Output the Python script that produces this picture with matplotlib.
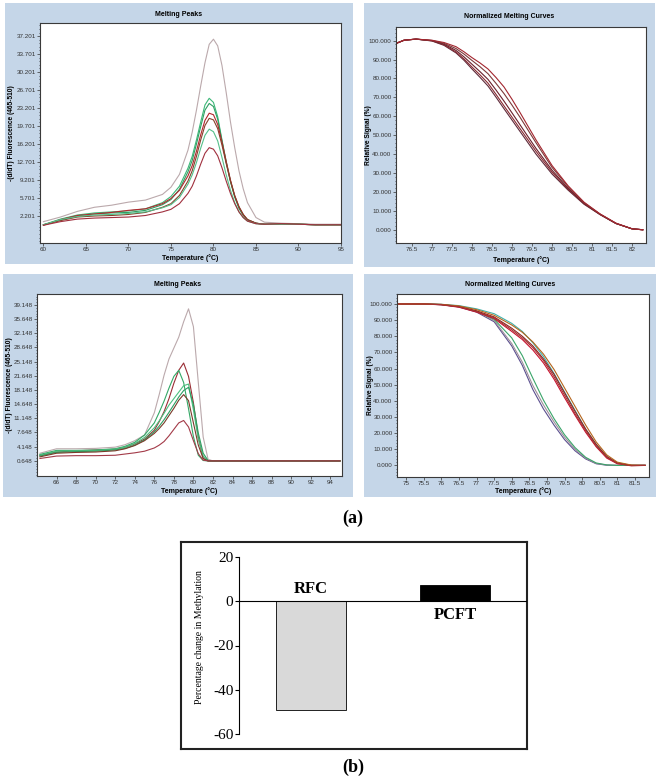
import matplotlib
matplotlib.use('Agg')
import matplotlib.pyplot as plt
from matplotlib.patches import Rectangle
from matplotlib.ticker import AutoMinorLocator

SANS = ['Liberation Sans', 'DejaVu Sans']
SERIF = ['Liberation Serif', 'DejaVu Serif']
plt.rcParams['font.family'] = SANS
plt.rcParams['axes.unicode_minus'] = False
plt.rcParams['lines.solid_joinstyle'] = 'round'

# ---- data: top-left melting peaks ----
tl_x = [60, 62, 64, 66, 68, 70, 72, 74, 75, 76, 77, 77.5, 78, 78.5, 79, 79.5, 80,
        80.5, 81, 81.5, 82, 82.5, 83, 83.5, 84, 85, 86, 88, 90, 92, 95]
tl_grey = [1.1, 2.0, 3.1, 3.9, 4.3, 4.9, 5.3, 6.4, 7.8, 10.3, 15.0, 18.5, 22.8, 27.5, 32.0, 35.6, 36.6,
           35.3, 31.5, 26.2, 20.5, 15.5, 11.0, 7.5, 4.8, 1.9, 1.0, 0.8, 0.7, 0.6, 0.6]
tl_green1 = [0.5, 1.6, 2.4, 2.8, 3.0, 3.2, 3.6, 4.8, 6.0, 8.0, 11.5, 13.8, 17.0, 20.5, 23.8, 25.1, 24.3,
             21.5, 17.0, 12.8, 9.0, 6.0, 3.8, 2.4, 1.5, 0.8, 0.6, 0.6, 0.6, 0.5, 0.5]
tl_green2 = [0.5, 1.4, 2.2, 2.6, 2.8, 2.9, 3.3, 4.4, 5.4, 7.4, 10.8, 13.0, 16.2, 19.6, 22.8, 24.1, 23.5,
             21.0, 16.8, 12.6, 8.9, 5.9, 3.7, 2.3, 1.4, 0.8, 0.6, 0.6, 0.6, 0.5, 0.5]
tl_red1 = [0.4, 1.5, 2.3, 2.6, 2.9, 3.3, 3.6, 4.6, 5.6, 7.2, 10.0, 12.0, 14.8, 18.0, 20.8, 22.2, 21.9,
           20.0, 16.6, 12.8, 9.2, 6.2, 4.0, 2.5, 1.5, 0.8, 0.6, 0.7, 0.6, 0.5, 0.5]
tl_brown = [0.5, 1.3, 2.0, 2.2, 2.3, 2.5, 2.9, 3.9, 4.6, 6.2, 9.0, 11.0, 13.8, 17.0, 19.8, 21.2, 20.9,
            19.2, 16.0, 12.4, 9.0, 6.1, 4.0, 2.5, 1.5, 0.8, 0.6, 0.6, 0.6, 0.5, 0.5]
tl_green3 = [0.5, 1.5, 2.1, 2.4, 2.5, 2.7, 3.0, 3.8, 4.4, 5.8, 8.4, 10.2, 12.6, 15.4, 17.9, 19.1, 18.6,
             16.8, 13.6, 10.2, 7.2, 4.8, 3.0, 1.9, 1.2, 0.7, 0.6, 0.6, 0.6, 0.5, 0.5]
tl_red2 = [0.4, 1.1, 1.6, 1.8, 1.9, 2.0, 2.3, 3.0, 3.5, 4.6, 6.6, 8.0, 10.0, 12.3, 14.4, 15.5, 15.2,
           13.9, 11.6, 9.0, 6.6, 4.6, 3.0, 1.9, 1.2, 0.7, 0.6, 0.7, 0.6, 0.5, 0.5]
tl_xticks = [60, 65, 70, 75, 80, 85, 90, 95]
tl_yticks = [2.201, 5.701, 9.201, 12.701, 16.201, 19.701, 23.201, 26.701, 30.201, 33.701, 37.201]

# ---- data: top-right normalized melting curves ----
tr_x = [76.1, 76.3, 76.6, 77.0, 77.3, 77.6, 77.8, 78.0, 78.2, 78.4, 78.6, 78.8, 79.0, 79.2, 79.6, 80.0,
        80.4, 80.8, 81.2, 81.6, 82.0, 82.27]
tr_a = [98.5, 100.2, 100.8, 99.8, 97.5, 93.5, 89.6, 85.0, 80.6, 76.0, 70.1, 64.0, 58.0, 52.0, 40.0, 29.5,
        21.0, 13.5, 8.0, 3.3, 0.5, 0.0]
tr_b = [98.5, 100.2, 100.8, 99.9, 97.8, 94.0, 90.3, 86.0, 81.9, 77.5, 71.6, 65.5, 59.5, 53.5, 41.5, 30.5,
        21.5, 13.8, 8.1, 3.3, 0.5, 0.0]
tr_c = [98.5, 100.2, 100.8, 100.0, 98.2, 94.8, 91.4, 87.5, 83.6, 79.5, 73.9, 68.0, 61.8, 55.5, 43.0, 31.5,
        22.0, 14.0, 8.2, 3.3, 0.5, 0.0]
tr_d = [98.5, 100.2, 100.8, 100.1, 98.6, 95.8, 92.9, 89.5, 86.2, 82.5, 77.4, 72.0, 65.9, 59.5, 46.0, 33.0,
        22.8, 14.3, 8.3, 3.4, 0.5, 0.0]
tr_e = [98.5, 100.2, 100.8, 100.2, 99.0, 96.8, 94.1, 91.0, 88.2, 85.0, 80.5, 75.5, 69.0, 62.0, 47.5, 34.0,
        23.3, 14.6, 8.4, 3.5, 0.5, 0.0]
tr_xticks = [76.5, 77, 77.5, 78, 78.5, 79, 79.5, 80, 80.5, 81, 81.5, 82]
tr_yticks = [0, 10, 20, 30, 40, 50, 60, 70, 80, 90, 100]

# ---- data: bottom-left melting peaks ----
bl_x = [64.3, 66, 68, 70, 72, 73, 74, 75, 76, 76.5, 77, 77.5, 78, 78.5, 79, 79.5, 80, 80.5, 81,
        81.5, 82, 84, 88, 92, 95]
bl_grey = [2.5, 3.6, 3.6, 3.7, 4.0, 4.6, 5.6, 7.0, 12.5, 17.0, 21.8, 25.8, 28.5, 31.2, 35.0, 38.2, 33.8,
           20.0, 6.5, 1.0, 0.6, 0.6, 0.6, 0.6, 0.6]
bl_red1 = [2.0, 2.8, 3.1, 3.3, 3.5, 4.0, 4.8, 6.0, 8.2, 10.3, 12.8, 16.0, 19.8, 23.0, 24.8, 21.5, 15.0,
           6.5, 1.2, 0.6, 0.6, 0.6, 0.6, 0.6, 0.6]
bl_green1 = [2.2, 3.2, 3.2, 3.3, 3.6, 4.2, 5.2, 7.0, 10.0, 12.6, 15.4, 18.6, 21.5, 23.0, 20.0, 13.5, 6.6,
             2.0, 0.7, 0.6, 0.6, 0.6, 0.6, 0.6, 0.6]
bl_green2 = [2.0, 3.0, 3.1, 3.2, 3.5, 4.0, 4.9, 6.4, 8.8, 10.5, 12.4, 14.4, 16.0, 17.6, 19.2, 19.6, 13.2,
             6.0, 1.8, 0.6, 0.6, 0.6, 0.6, 0.6, 0.6]
bl_green3 = [1.8, 2.7, 2.9, 3.0, 3.3, 3.7, 4.5, 5.8, 7.8, 9.2, 10.8, 12.6, 14.5, 16.4, 18.0, 18.8, 14.5,
             7.5, 2.5, 0.7, 0.6, 0.6, 0.6, 0.6, 0.6]
bl_brown = [1.6, 2.5, 2.7, 2.8, 3.1, 3.6, 4.4, 5.6, 7.4, 8.6, 10.0, 11.8, 13.6, 15.6, 17.0, 15.5, 10.0,
            4.5, 1.2, 0.6, 0.6, 0.6, 0.6, 0.6, 0.6]
bl_red2 = [1.2, 1.8, 1.9, 1.9, 2.0, 2.3, 2.6, 3.0, 3.8, 4.5, 5.4, 6.8, 8.4, 10.0, 10.6, 9.0, 5.6,
           2.4, 0.8, 0.6, 0.6, 0.6, 0.6, 0.6, 0.6]
bl_xticks = [66, 68, 70, 72, 74, 76, 78, 80, 82, 84, 86, 88, 90, 92, 94]
bl_yticks = [0.648, 4.148, 7.648, 11.148, 14.648, 18.148, 21.648, 25.148, 28.648, 32.148, 35.648, 39.148]

# ---- data: bottom-right normalized melting curves ----
br_x = [74.77, 75.5, 76, 76.5, 77, 77.5, 78, 78.3, 78.6, 78.9, 79.2, 79.5, 79.8, 80.1, 80.4, 80.7,
        81, 81.4, 81.79]
br_l1 = [100, 100, 99.6, 98.2, 95.0, 89.0, 74.0, 62.0, 47.0, 35.0, 25.0, 16.0, 9.0, 4.0, 1.0, 0.1, 0, 0, 0]
br_l2 = [100, 100, 99.7, 98.4, 95.4, 89.8, 75.5, 64.0, 49.5, 37.5, 27.0, 17.5, 10.0, 4.5, 1.2, 0.2, 0, 0, 0]
br_g = [100, 100, 99.6, 98.3, 95.5, 90.5, 79.0, 68.0, 54.0, 40.5, 29.0, 19.0, 11.0, 5.0, 1.5, 0.3, 0, 0, 0]
br_t = [100, 100, 99.8, 99.0, 97.0, 94.0, 88.0, 83.0, 76.0, 67.5, 57.0, 45.5, 34.0, 22.5, 13.0, 5.5, 1.5, 0, 0]
br_r1 = [100, 100, 99.5, 98.0, 95.0, 91.0, 83.0, 78.0, 71.5, 63.5, 53.5, 42.0, 31.0, 20.5, 11.5, 4.5, 1.0, 0, 0]
br_r2 = [100, 100, 99.7, 98.5, 95.8, 92.0, 85.0, 80.0, 74.0, 66.0, 56.5, 45.0, 33.5, 22.5, 13.0, 5.5, 1.5, 0, 0]
br_r3 = [100, 100, 99.8, 98.8, 96.5, 93.0, 87.0, 82.5, 76.5, 69.0, 59.5, 48.0, 36.5, 25.0, 14.5, 6.5, 2.0, 0.2, 0]
br_r4 = [100, 100, 99.6, 98.3, 95.3, 91.5, 84.0, 79.0, 73.0, 65.0, 55.0, 43.5, 32.0, 21.5, 12.0, 5.0, 1.2, -0.3, 0]
br_xticks = [75, 75.5, 76, 76.5, 77, 77.5, 78, 78.5, 79, 79.5, 80, 80.5, 81, 81.5]
br_yticks = [0, 10, 20, 30, 40, 50, 60, 70, 80, 90, 100]

# ---- data: bar chart ----
genes = ['RFC', 'PCFT']
change = [-49, 7.5]
bar_yticks = [20, 0, -20, -40, -60]

W, H = 662, 782
BG = '#c5d6e8'
fig = plt.figure(figsize=(W / 100, H / 100), dpi=100)


def fbox(l, t, r, b):
    return [l / W, 1 - b / H, (r - l) / W, (b - t) / H]


def fpt(x, y):
    return x / W, 1 - y / H


def panel(bg, axpx, title, title_y, ylabel, ylab_x, xlab_y, x, curves,
          xlim, ylim, xticks, yticks):
    l, t, r, b = bg
    fig.patches.append(Rectangle((l / W, 1 - b / H), (r - l) / W, (b - t) / H,
                                 transform=fig.transFigure, fc=BG, ec='none', zorder=-5))
    ax = fig.add_axes(fbox(*axpx))
    ax.set_zorder(2)
    for ys, col in curves:
        ax.plot(x, ys, color=col, lw=0.8)
    ax.set_xlim(*xlim)
    ax.set_ylim(*ylim)
    ax.set_xticks(xticks)
    ax.set_xticklabels(['%g' % v for v in xticks])
    ax.set_yticks(yticks)
    ax.set_yticklabels(['{:.3f}'.format(v) for v in yticks])
    ax.yaxis.set_minor_locator(AutoMinorLocator(5))
    ax.tick_params(labelsize=4.5, length=2, width=0.5, pad=1.2, colors='#333333')
    ax.tick_params(which='minor', length=1, width=0.4)
    for s in ax.spines.values():
        s.set_color('#3a3a3a')
        s.set_linewidth(0.8)
    fig.text(*fpt((l + r) / 2, title_y), title, ha='center', va='center', fontsize=5,
             fontweight='bold')
    fig.text(*fpt((axpx[0] + axpx[2]) / 2, xlab_y), 'Temperature (°C)', ha='center', va='center',
             fontsize=5, fontweight='bold')
    fig.text(*fpt(ylab_x, (axpx[1] + axpx[3]) / 2), ylabel, ha='center', va='center',
             rotation=90, fontsize=4.8, fontweight='bold')
    return ax


panel((5, 3, 353, 264), (40, 23, 341, 243), 'Melting Peaks', 14,
      '-(d/dT) Fluorescence (465-510)', 12, 258, tl_x,
      [(tl_grey, '#bba9ac'), (tl_green1, '#3cb878'), (tl_green2, '#2f9f63'),
       (tl_red1, '#b3262e'), (tl_brown, '#86402a'), (tl_green3, '#55c08a'),
       (tl_red2, '#a0303e')],
      (59.6, 95), (-3.05, 39.75), tl_xticks, tl_yticks)

panel((364, 3, 655, 267), (396, 27, 646, 243), 'Normalized Melting Curves', 17,
      'Relative Signal (%)', 369, 260, tr_x,
      [(tr_a, '#5e2a3a'), (tr_b, '#8b2b32'), (tr_c, '#6a1f2b'),
       (tr_d, '#7d3a3a'), (tr_e, '#a3262f')],
      (76.1, 82.35), (-7.0, 107.2), tr_xticks, tr_yticks)

panel((3, 274, 353, 497), (37, 294, 342, 476), 'Melting Peaks', 285,
      '-(d/dT) Fluorescence (465-510)', 10, 491, bl_x,
      [(bl_grey, '#bba9ac'), (bl_red1, '#9a2d35'), (bl_green1, '#33a866'),
       (bl_green2, '#4cc07f'), (bl_green3, '#2f9f63'), (bl_brown, '#7a3b2a'),
       (bl_red2, '#a33a48')],
      (64.0, 95.2), (-3.13, 41.87), bl_xticks, bl_yticks)

panel((364, 274, 656, 497), (397, 294, 649, 477), 'Normalized Melting Curves', 284,
      'Relative Signal (%)', 370, 491, br_x,
      [(br_l1, '#5b4f8f'), (br_l2, '#9e8f9a'), (br_g, '#3aa56a'), (br_t, '#3fb0a8'),
       (br_r1, '#c8102e'), (br_r2, '#8b2323'), (br_r3, '#b5651d'), (br_r4, '#a83232')],
      (74.74, 81.9), (-7.2, 106.2), br_xticks, br_yticks)

fig.text(*fpt(353, 518), '(a)', ha='center', va='center', fontsize=13,
         fontweight='bold', family=SERIF)

# ---- bar chart ----
frame = fig.add_axes(fbox(181, 542, 527, 749))
frame.set_xticks([])
frame.set_yticks([])
for s in frame.spines.values():
    s.set_linewidth(1.5)
    s.set_color('#222222')

bx = fig.add_axes(fbox(239, 557, 527, 734))
bx.patch.set_alpha(0)
bx.bar(range(len(genes)), change, width=0.48, color=['#d9d9d9', 'black'],
       edgecolor='black', linewidth=0.6)
bx.axhline(0, color='black', lw=0.8)
bx.set_xlim(-0.5, 1.5)
bx.set_ylim(-60, 20)
bx.set_xticks([])
bx.set_yticks(bar_yticks)
bx.set_yticklabels([str(v) for v in bar_yticks], family=SERIF, fontsize=11)
bx.tick_params(axis='y', length=3, width=0.8, pad=1)
for s in ['top', 'right', 'bottom']:
    bx.spines[s].set_visible(False)
bx.spines['left'].set_linewidth(0.8)
bx.text(0, 2, genes[0], ha='center', va='bottom', fontsize=12, fontweight='bold', family=SERIF)
bx.text(1, -2.5, genes[1], ha='center', va='top', fontsize=12, fontweight='bold', family=SERIF)
fig.text(*fpt(199, 637), 'Percentage change in Methylation', rotation=90, ha='center',
         va='center', fontsize=7, family=SERIF)

fig.text(*fpt(353, 767), '(b)', ha='center', va='center', fontsize=13,
         fontweight='bold', family=SERIF)

fig.savefig('out.png', dpi=100)
